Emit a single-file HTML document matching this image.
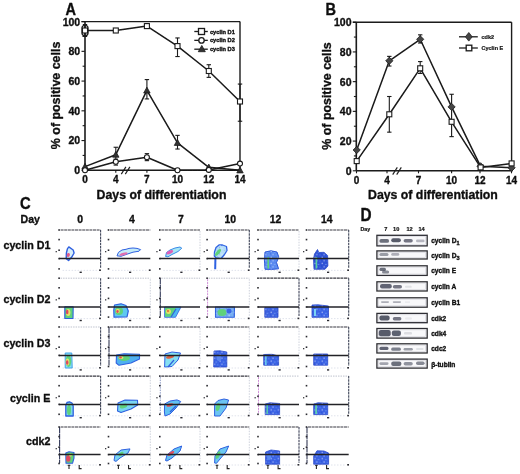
<!DOCTYPE html><html><head><meta charset="utf-8"><style>html,body{margin:0;padding:0;background:#fff;}svg{display:block;}text{font-family:"Liberation Sans", sans-serif;fill:#111;stroke:#111;stroke-width:0.35px;stroke-linejoin:round;}</style></head><body>
<svg width="520" height="474" viewBox="0 0 520 474">
<defs><filter id="soft" x="-10%" y="-10%" width="120%" height="120%"><feGaussianBlur stdDeviation="0.35"/></filter><filter id="gblur" x="0" y="0" width="520" height="474" filterUnits="userSpaceOnUse"><feGaussianBlur stdDeviation="0.3"/></filter><pattern id="speck" width="7.3" height="6.1" patternUnits="userSpaceOnUse"><circle cx="1.1" cy="1.2" r="0.7" fill="#fff" fill-opacity="0.55"/><circle cx="4.6" cy="2.1" r="0.55" fill="#a8d4ff" fill-opacity="0.7"/><circle cx="2.9" cy="4.4" r="0.8" fill="#fff" fill-opacity="0.45"/><circle cx="6.2" cy="5.0" r="0.5" fill="#80c8f8" fill-opacity="0.7"/><circle cx="5.6" cy="0.3" r="0.4" fill="#1a38b0" fill-opacity="0.6"/><circle cx="0.4" cy="3.6" r="0.45" fill="#1a38b0" fill-opacity="0.5"/></pattern></defs><rect width="520" height="474" fill="#fff"/><g filter="url(#gblur)">
<line x1="85" y1="21.6" x2="85" y2="170.3" stroke="#1a1a1a" stroke-width="1.6" />
<line x1="81.5" y1="21.6" x2="240" y2="21.6" stroke="#1a1a1a" stroke-width="1.4" />
<line x1="240" y1="21.6" x2="240" y2="170.3" stroke="#1a1a1a" stroke-width="1.4" />
<line x1="85" y1="170.3" x2="241" y2="170.3" stroke="#1a1a1a" stroke-width="1.6" />
<line x1="81.5" y1="170.3" x2="85" y2="170.3" stroke="#1a1a1a" stroke-width="1.1" />
<line x1="82.6" y1="155.43" x2="85" y2="155.43" stroke="#1a1a1a" stroke-width="1.1" />
<line x1="81.5" y1="140.56" x2="85" y2="140.56" stroke="#1a1a1a" stroke-width="1.1" />
<line x1="82.6" y1="125.69000000000001" x2="85" y2="125.69000000000001" stroke="#1a1a1a" stroke-width="1.1" />
<line x1="81.5" y1="110.82000000000001" x2="85" y2="110.82000000000001" stroke="#1a1a1a" stroke-width="1.1" />
<line x1="82.6" y1="95.95" x2="85" y2="95.95" stroke="#1a1a1a" stroke-width="1.1" />
<line x1="81.5" y1="81.08000000000001" x2="85" y2="81.08000000000001" stroke="#1a1a1a" stroke-width="1.1" />
<line x1="82.6" y1="66.21000000000001" x2="85" y2="66.21000000000001" stroke="#1a1a1a" stroke-width="1.1" />
<line x1="81.5" y1="51.34" x2="85" y2="51.34" stroke="#1a1a1a" stroke-width="1.1" />
<line x1="82.6" y1="36.47" x2="85" y2="36.47" stroke="#1a1a1a" stroke-width="1.1" />
<line x1="81.5" y1="21.599999999999994" x2="85" y2="21.599999999999994" stroke="#1a1a1a" stroke-width="1.1" />
<text x="80.2" y="174.20000000000002" font-size="10.5" text-anchor="end" font-weight="bold" >0</text>
<text x="80.2" y="144.46" font-size="10.5" text-anchor="end" font-weight="bold" >20</text>
<text x="80.2" y="114.72000000000001" font-size="10.5" text-anchor="end" font-weight="bold" >40</text>
<text x="80.2" y="84.98000000000002" font-size="10.5" text-anchor="end" font-weight="bold" >60</text>
<text x="80.2" y="55.24" font-size="10.5" text-anchor="end" font-weight="bold" >80</text>
<text x="80.2" y="25.499999999999993" font-size="10.5" text-anchor="end" font-weight="bold" >100</text>
<line x1="85" y1="170.3" x2="85" y2="172.8" stroke="#1a1a1a" stroke-width="1.1" />
<text x="85" y="183.10000000000002" font-size="10" text-anchor="middle" font-weight="bold" >0</text>
<line x1="115.8" y1="170.3" x2="115.8" y2="172.8" stroke="#1a1a1a" stroke-width="1.1" />
<text x="115.8" y="183.10000000000002" font-size="10" text-anchor="middle" font-weight="bold" >4</text>
<line x1="146.9" y1="170.3" x2="146.9" y2="172.8" stroke="#1a1a1a" stroke-width="1.1" />
<text x="146.9" y="183.10000000000002" font-size="10" text-anchor="middle" font-weight="bold" >7</text>
<line x1="177.5" y1="170.3" x2="177.5" y2="172.8" stroke="#1a1a1a" stroke-width="1.1" />
<text x="177.5" y="183.10000000000002" font-size="10" text-anchor="middle" font-weight="bold" >10</text>
<line x1="208.8" y1="170.3" x2="208.8" y2="172.8" stroke="#1a1a1a" stroke-width="1.1" />
<text x="208.8" y="183.10000000000002" font-size="10" text-anchor="middle" font-weight="bold" >12</text>
<line x1="240" y1="170.3" x2="240" y2="172.8" stroke="#1a1a1a" stroke-width="1.1" />
<text x="240" y="183.10000000000002" font-size="10" text-anchor="middle" font-weight="bold" >14</text>
<line x1="121.3" y1="174.10000000000002" x2="125.89999999999999" y2="166.9" stroke="#1a1a1a" stroke-width="1.1" />
<line x1="125.3" y1="174.10000000000002" x2="129.9" y2="166.9" stroke="#1a1a1a" stroke-width="1.1" />
<text x="161.5" y="198.9" font-size="12.3" text-anchor="middle" font-weight="bold" >Days of differentiation</text>
<text transform="translate(60,95.45) rotate(-90)" font-size="12.4" text-anchor="middle" font-weight="bold">% of positive cells</text>
<text transform="translate(65.5,15) scale(1,1.1)" font-size="14.5" font-weight="bold">A</text>
<line x1="85" y1="24.574000000000012" x2="85" y2="36.47" stroke="#1a1a1a" stroke-width="1.1" />
<line x1="82.8" y1="24.574000000000012" x2="87.2" y2="24.574000000000012" stroke="#1a1a1a" stroke-width="1.1" />
<line x1="82.8" y1="36.47" x2="87.2" y2="36.47" stroke="#1a1a1a" stroke-width="1.1" />
<line x1="146.9" y1="23.8305" x2="146.9" y2="28.291500000000013" stroke="#1a1a1a" stroke-width="1.1" />
<line x1="144.70000000000002" y1="23.8305" x2="149.1" y2="23.8305" stroke="#1a1a1a" stroke-width="1.1" />
<line x1="144.70000000000002" y1="28.291500000000013" x2="149.1" y2="28.291500000000013" stroke="#1a1a1a" stroke-width="1.1" />
<line x1="177.5" y1="37.956999999999994" x2="177.5" y2="56.5445" stroke="#1a1a1a" stroke-width="1.1" />
<line x1="175.3" y1="37.956999999999994" x2="179.7" y2="37.956999999999994" stroke="#1a1a1a" stroke-width="1.1" />
<line x1="175.3" y1="56.5445" x2="179.7" y2="56.5445" stroke="#1a1a1a" stroke-width="1.1" />
<line x1="208.8" y1="64.723" x2="208.8" y2="77.36250000000001" stroke="#1a1a1a" stroke-width="1.1" />
<line x1="206.60000000000002" y1="64.723" x2="211.0" y2="64.723" stroke="#1a1a1a" stroke-width="1.1" />
<line x1="206.60000000000002" y1="77.36250000000001" x2="211.0" y2="77.36250000000001" stroke="#1a1a1a" stroke-width="1.1" />
<line x1="240" y1="84.054" x2="240" y2="121.22900000000001" stroke="#1a1a1a" stroke-width="1.1" />
<line x1="237.8" y1="84.054" x2="242.2" y2="84.054" stroke="#1a1a1a" stroke-width="1.1" />
<line x1="237.8" y1="121.22900000000001" x2="242.2" y2="121.22900000000001" stroke="#1a1a1a" stroke-width="1.1" />
<line x1="115.8" y1="147.25150000000002" x2="115.8" y2="162.865" stroke="#1a1a1a" stroke-width="1.1" />
<line x1="113.6" y1="147.25150000000002" x2="118.0" y2="147.25150000000002" stroke="#1a1a1a" stroke-width="1.1" />
<line x1="113.6" y1="162.865" x2="118.0" y2="162.865" stroke="#1a1a1a" stroke-width="1.1" />
<line x1="146.9" y1="79.593" x2="146.9" y2="98.924" stroke="#1a1a1a" stroke-width="1.1" />
<line x1="144.70000000000002" y1="79.593" x2="149.1" y2="79.593" stroke="#1a1a1a" stroke-width="1.1" />
<line x1="144.70000000000002" y1="98.924" x2="149.1" y2="98.924" stroke="#1a1a1a" stroke-width="1.1" />
<line x1="177.5" y1="135.3555" x2="177.5" y2="149.0359" stroke="#1a1a1a" stroke-width="1.1" />
<line x1="175.3" y1="135.3555" x2="179.7" y2="135.3555" stroke="#1a1a1a" stroke-width="1.1" />
<line x1="175.3" y1="149.0359" x2="179.7" y2="149.0359" stroke="#1a1a1a" stroke-width="1.1" />
<line x1="115.8" y1="159.1475" x2="115.8" y2="165.09550000000002" stroke="#1a1a1a" stroke-width="1.1" />
<line x1="113.6" y1="159.1475" x2="118.0" y2="159.1475" stroke="#1a1a1a" stroke-width="1.1" />
<line x1="113.6" y1="165.09550000000002" x2="118.0" y2="165.09550000000002" stroke="#1a1a1a" stroke-width="1.1" />
<line x1="146.9" y1="153.6456" x2="146.9" y2="160.6345" stroke="#1a1a1a" stroke-width="1.1" />
<line x1="144.70000000000002" y1="153.6456" x2="149.1" y2="153.6456" stroke="#1a1a1a" stroke-width="1.1" />
<line x1="144.70000000000002" y1="160.6345" x2="149.1" y2="160.6345" stroke="#1a1a1a" stroke-width="1.1" />
<polyline points="85.0,166.6 115.8,154.7 146.9,90.4 177.5,142.8 208.8,167.3 240.0,170.3" fill="none" stroke="#1a1a1a" stroke-width="1.5" stroke-linejoin="round"/>
<polyline points="85.0,170.3 115.8,161.7 146.9,157.2 177.5,170.3 208.8,169.9 240.0,163.6" fill="none" stroke="#1a1a1a" stroke-width="1.5" stroke-linejoin="round"/>
<polyline points="85.0,30.5 115.8,30.5 146.9,26.1 177.5,46.1 208.8,71.0 240.0,101.5" fill="none" stroke="#1a1a1a" stroke-width="1.5" stroke-linejoin="round"/>
<path d="M85.0,163.4 L88.2,169.1 L81.8,169.1 Z" fill="#333" stroke="#1a1a1a" stroke-width="0.8"/>
<path d="M115.8,151.5 L119.0,157.2 L112.6,157.2 Z" fill="#333" stroke="#1a1a1a" stroke-width="0.8"/>
<path d="M146.9,87.2 L150.1,93.0 L143.7,93.0 Z" fill="#333" stroke="#1a1a1a" stroke-width="0.8"/>
<path d="M177.5,139.6 L180.7,145.4 L174.3,145.4 Z" fill="#333" stroke="#1a1a1a" stroke-width="0.8"/>
<path d="M208.8,164.1 L212.0,169.9 L205.6,169.9 Z" fill="#333" stroke="#1a1a1a" stroke-width="0.8"/>
<path d="M240.0,167.1 L243.2,172.9 L236.8,172.9 Z" fill="#333" stroke="#1a1a1a" stroke-width="0.8"/>
<circle cx="85.0" cy="170.3" r="2.5" fill="#fff" stroke="#1a1a1a" stroke-width="1.1"/>
<circle cx="115.8" cy="161.7" r="2.5" fill="#fff" stroke="#1a1a1a" stroke-width="1.1"/>
<circle cx="146.9" cy="157.2" r="2.5" fill="#fff" stroke="#1a1a1a" stroke-width="1.1"/>
<circle cx="177.5" cy="170.3" r="2.5" fill="#fff" stroke="#1a1a1a" stroke-width="1.1"/>
<circle cx="208.8" cy="169.9" r="2.5" fill="#fff" stroke="#1a1a1a" stroke-width="1.1"/>
<circle cx="240.0" cy="163.6" r="2.5" fill="#fff" stroke="#1a1a1a" stroke-width="1.1"/>
<rect x="82.5" y="28.0" width="5.0" height="5.0" fill="#fff" stroke="#1a1a1a" stroke-width="1.1"/>
<rect x="113.3" y="28.0" width="5.0" height="5.0" fill="#fff" stroke="#1a1a1a" stroke-width="1.1"/>
<rect x="144.4" y="23.6" width="5.0" height="5.0" fill="#fff" stroke="#1a1a1a" stroke-width="1.1"/>
<rect x="175.0" y="43.6" width="5.0" height="5.0" fill="#fff" stroke="#1a1a1a" stroke-width="1.1"/>
<rect x="206.3" y="68.5" width="5.0" height="5.0" fill="#fff" stroke="#1a1a1a" stroke-width="1.1"/>
<rect x="237.5" y="99.0" width="5.0" height="5.0" fill="#fff" stroke="#1a1a1a" stroke-width="1.1"/>
<rect x="81.9" y="25.3" width="6.2" height="10.4" rx="3" fill="none" stroke="#1a1a1a" stroke-width="1.2"/>
<line x1="194.3" y1="31.5" x2="207.8" y2="31.5" stroke="#1a1a1a" stroke-width="1.3" />
<rect x="198.5" y="28.5" width="6.0" height="6.0" fill="#fff" stroke="#1a1a1a" stroke-width="1.3"/>
<text x="209.9" y="33.5" font-size="5.7" text-anchor="start" font-weight="bold" >cyclin D1</text>
<line x1="194.3" y1="40.35" x2="207.8" y2="40.35" stroke="#1a1a1a" stroke-width="1.3" />
<circle cx="201.5" cy="40.4" r="2.7" fill="#fff" stroke="#1a1a1a" stroke-width="1.3"/>
<text x="209.9" y="42.35" font-size="5.7" text-anchor="start" font-weight="bold" >cyclin D2</text>
<line x1="194.3" y1="49.2" x2="207.8" y2="49.2" stroke="#1a1a1a" stroke-width="1.3" />
<path d="M201.8,45.4 L205.3,51.7 L198.3,51.7 Z" fill="#333" stroke="#1a1a1a" stroke-width="0.8"/>
<text x="209.9" y="51.2" font-size="5.7" text-anchor="start" font-weight="bold" >cyclin D3</text>
<line x1="356.3" y1="22.2" x2="356.3" y2="170.8" stroke="#1a1a1a" stroke-width="1.6" />
<line x1="352.8" y1="22.2" x2="511.6" y2="22.2" stroke="#1a1a1a" stroke-width="1.4" />
<line x1="511.6" y1="22.2" x2="511.6" y2="170.8" stroke="#1a1a1a" stroke-width="1.4" />
<line x1="356.3" y1="170.8" x2="512.6" y2="170.8" stroke="#1a1a1a" stroke-width="1.6" />
<line x1="352.8" y1="170.8" x2="356.3" y2="170.8" stroke="#1a1a1a" stroke-width="1.1" />
<line x1="353.90000000000003" y1="155.94" x2="356.3" y2="155.94" stroke="#1a1a1a" stroke-width="1.1" />
<line x1="352.8" y1="141.08" x2="356.3" y2="141.08" stroke="#1a1a1a" stroke-width="1.1" />
<line x1="353.90000000000003" y1="126.22" x2="356.3" y2="126.22" stroke="#1a1a1a" stroke-width="1.1" />
<line x1="352.8" y1="111.36" x2="356.3" y2="111.36" stroke="#1a1a1a" stroke-width="1.1" />
<line x1="353.90000000000003" y1="96.5" x2="356.3" y2="96.5" stroke="#1a1a1a" stroke-width="1.1" />
<line x1="352.8" y1="81.64" x2="356.3" y2="81.64" stroke="#1a1a1a" stroke-width="1.1" />
<line x1="353.90000000000003" y1="66.78" x2="356.3" y2="66.78" stroke="#1a1a1a" stroke-width="1.1" />
<line x1="352.8" y1="51.91999999999999" x2="356.3" y2="51.91999999999999" stroke="#1a1a1a" stroke-width="1.1" />
<line x1="353.90000000000003" y1="37.06" x2="356.3" y2="37.06" stroke="#1a1a1a" stroke-width="1.1" />
<line x1="352.8" y1="22.19999999999999" x2="356.3" y2="22.19999999999999" stroke="#1a1a1a" stroke-width="1.1" />
<text x="351.5" y="174.70000000000002" font-size="10.5" text-anchor="end" font-weight="bold" >0</text>
<text x="351.5" y="144.98000000000002" font-size="10.5" text-anchor="end" font-weight="bold" >20</text>
<text x="351.5" y="115.26" font-size="10.5" text-anchor="end" font-weight="bold" >40</text>
<text x="351.5" y="85.54" font-size="10.5" text-anchor="end" font-weight="bold" >60</text>
<text x="351.5" y="55.819999999999986" font-size="10.5" text-anchor="end" font-weight="bold" >80</text>
<text x="351.5" y="26.099999999999987" font-size="10.5" text-anchor="end" font-weight="bold" >100</text>
<line x1="356.5" y1="170.8" x2="356.5" y2="173.3" stroke="#1a1a1a" stroke-width="1.1" />
<text x="356.5" y="183.60000000000002" font-size="10" text-anchor="middle" font-weight="bold" >0</text>
<line x1="387" y1="170.8" x2="387" y2="173.3" stroke="#1a1a1a" stroke-width="1.1" />
<text x="387" y="183.60000000000002" font-size="10" text-anchor="middle" font-weight="bold" >4</text>
<line x1="418.5" y1="170.8" x2="418.5" y2="173.3" stroke="#1a1a1a" stroke-width="1.1" />
<text x="418.5" y="183.60000000000002" font-size="10" text-anchor="middle" font-weight="bold" >7</text>
<line x1="451.6" y1="170.8" x2="451.6" y2="173.3" stroke="#1a1a1a" stroke-width="1.1" />
<text x="451.6" y="183.60000000000002" font-size="10" text-anchor="middle" font-weight="bold" >10</text>
<line x1="480" y1="170.8" x2="480" y2="173.3" stroke="#1a1a1a" stroke-width="1.1" />
<text x="480" y="183.60000000000002" font-size="10" text-anchor="middle" font-weight="bold" >12</text>
<line x1="511.5" y1="170.8" x2="511.5" y2="173.3" stroke="#1a1a1a" stroke-width="1.1" />
<text x="511.5" y="183.60000000000002" font-size="10" text-anchor="middle" font-weight="bold" >14</text>
<line x1="392.7" y1="174.60000000000002" x2="397.3" y2="167.4" stroke="#1a1a1a" stroke-width="1.1" />
<line x1="396.7" y1="174.60000000000002" x2="401.3" y2="167.4" stroke="#1a1a1a" stroke-width="1.1" />
<text x="432.95000000000005" y="199.4" font-size="12.3" text-anchor="middle" font-weight="bold" >Days of differentiation</text>
<text transform="translate(331.3,96.0) rotate(-90)" font-size="12.4" text-anchor="middle" font-weight="bold">% of positive cells</text>
<text transform="translate(325.5,15) scale(1,1.1)" font-size="14.5" font-weight="bold">B</text>
<line x1="389.3" y1="96.5" x2="389.3" y2="132.16400000000002" stroke="#1a1a1a" stroke-width="1.1" />
<line x1="387.1" y1="96.5" x2="391.5" y2="96.5" stroke="#1a1a1a" stroke-width="1.1" />
<line x1="387.1" y1="132.16400000000002" x2="391.5" y2="132.16400000000002" stroke="#1a1a1a" stroke-width="1.1" />
<line x1="389.3" y1="56.378" x2="389.3" y2="66.03699999999999" stroke="#1a1a1a" stroke-width="1.1" />
<line x1="387.1" y1="56.378" x2="391.5" y2="56.378" stroke="#1a1a1a" stroke-width="1.1" />
<line x1="387.1" y1="66.03699999999999" x2="391.5" y2="66.03699999999999" stroke="#1a1a1a" stroke-width="1.1" />
<line x1="420.2" y1="34.83099999999999" x2="420.2" y2="43.00399999999999" stroke="#1a1a1a" stroke-width="1.1" />
<line x1="418.0" y1="34.83099999999999" x2="422.4" y2="34.83099999999999" stroke="#1a1a1a" stroke-width="1.1" />
<line x1="418.0" y1="43.00399999999999" x2="422.4" y2="43.00399999999999" stroke="#1a1a1a" stroke-width="1.1" />
<line x1="420.2" y1="61.57899999999999" x2="420.2" y2="73.467" stroke="#1a1a1a" stroke-width="1.1" />
<line x1="418.0" y1="61.57899999999999" x2="422.4" y2="61.57899999999999" stroke="#1a1a1a" stroke-width="1.1" />
<line x1="418.0" y1="73.467" x2="422.4" y2="73.467" stroke="#1a1a1a" stroke-width="1.1" />
<line x1="451.6" y1="94.271" x2="451.6" y2="136.622" stroke="#1a1a1a" stroke-width="1.1" />
<line x1="449.40000000000003" y1="94.271" x2="453.8" y2="94.271" stroke="#1a1a1a" stroke-width="1.1" />
<line x1="449.40000000000003" y1="136.622" x2="453.8" y2="136.622" stroke="#1a1a1a" stroke-width="1.1" />
<polyline points="356.7,150.0 389.3,60.8 420.2,39.3 451.6,106.9 480.6,166.3 511.6,167.8" fill="none" stroke="#1a1a1a" stroke-width="1.5" stroke-linejoin="round"/>
<polyline points="356.7,161.1 389.3,114.3 420.2,68.3 451.6,121.8 480.6,167.4 511.6,163.4" fill="none" stroke="#1a1a1a" stroke-width="1.5" stroke-linejoin="round"/>
<path d="M356.7,146.4 L360.3,150.0 L356.7,153.6 L353.1,150.0 Z" fill="#444" stroke="#1a1a1a" stroke-width="0.8"/>
<path d="M389.3,57.2 L392.9,60.8 L389.3,64.4 L385.7,60.8 Z" fill="#444" stroke="#1a1a1a" stroke-width="0.8"/>
<path d="M420.2,35.7 L423.8,39.3 L420.2,42.9 L416.6,39.3 Z" fill="#444" stroke="#1a1a1a" stroke-width="0.8"/>
<path d="M451.6,103.3 L455.2,106.9 L451.6,110.5 L448.0,106.9 Z" fill="#444" stroke="#1a1a1a" stroke-width="0.8"/>
<path d="M480.6,162.7 L484.2,166.3 L480.6,169.9 L477.0,166.3 Z" fill="#444" stroke="#1a1a1a" stroke-width="0.8"/>
<path d="M511.6,164.2 L515.2,167.8 L511.6,171.4 L508.0,167.8 Z" fill="#444" stroke="#1a1a1a" stroke-width="0.8"/>
<rect x="354.2" y="158.6" width="5.0" height="5.0" fill="#fff" stroke="#1a1a1a" stroke-width="1.1"/>
<rect x="386.8" y="111.8" width="5.0" height="5.0" fill="#fff" stroke="#1a1a1a" stroke-width="1.1"/>
<rect x="417.7" y="65.8" width="5.0" height="5.0" fill="#fff" stroke="#1a1a1a" stroke-width="1.1"/>
<rect x="449.1" y="119.3" width="5.0" height="5.0" fill="#fff" stroke="#1a1a1a" stroke-width="1.1"/>
<rect x="478.1" y="164.9" width="5.0" height="5.0" fill="#fff" stroke="#1a1a1a" stroke-width="1.1"/>
<rect x="509.1" y="160.9" width="5.0" height="5.0" fill="#fff" stroke="#1a1a1a" stroke-width="1.1"/>
<line x1="459" y1="36.8" x2="477.8" y2="36.8" stroke="#1a1a1a" stroke-width="1.3" />
<path d="M468.8,32.5 L472.2,36.8 L468.8,41.1 L465.4,36.8 Z" fill="#444" stroke="#222" stroke-width="0.8"/>
<text x="481.5" y="38.699999999999996" font-size="5.5" text-anchor="start" font-weight="bold" style="stroke-width:0.2px">cdk2</text>
<line x1="459" y1="48.0" x2="477.8" y2="48.0" stroke="#1a1a1a" stroke-width="1.3" />
<rect x="466.2" y="45.2" width="5.6" height="5.6" fill="#fff" stroke="#1a1a1a" stroke-width="1.3"/>
<text x="481.5" y="49.9" font-size="5.5" text-anchor="start" font-weight="bold" style="stroke-width:0.2px">Cyclin E</text>
<text transform="translate(20.1,208.6) scale(1,1.1)" font-size="14.8" font-weight="bold">C</text>
<text x="20.5" y="222.8" font-size="10.6" text-anchor="start" font-weight="bold" >Day</text>
<text x="80.2" y="223.2" font-size="10.4" text-anchor="middle" font-weight="bold" >0</text>
<text x="132" y="223.2" font-size="10.4" text-anchor="middle" font-weight="bold" >4</text>
<text x="181" y="223.2" font-size="10.4" text-anchor="middle" font-weight="bold" >7</text>
<text x="230.3" y="223.2" font-size="10.4" text-anchor="middle" font-weight="bold" >10</text>
<text x="275.5" y="223.2" font-size="10.4" text-anchor="middle" font-weight="bold" >12</text>
<text x="326.8" y="223.2" font-size="10.4" text-anchor="middle" font-weight="bold" >14</text>
<text x="50.4" y="248.8" font-size="10.7" text-anchor="end" font-weight="bold" >cyclin D1</text>
<text x="50.4" y="303.2" font-size="10.7" text-anchor="end" font-weight="bold" >cyclin D2</text>
<text x="50.4" y="346.7" font-size="10.7" text-anchor="end" font-weight="bold" >cyclin D3</text>
<text x="50.4" y="402.0" font-size="10.7" text-anchor="end" font-weight="bold" >cyclin E</text>
<text x="50.4" y="445.0" font-size="10.7" text-anchor="end" font-weight="bold" >cdk2</text>
<line x1="60.6" y1="230.0" x2="100.6" y2="230.0" stroke="#3a3a40" stroke-width="1.2" stroke-dasharray="3 0.6"/>
<line x1="100.6" y1="230.0" x2="100.6" y2="268.4" stroke="#40465a" stroke-width="1.1" stroke-dasharray="2.5 0.7"/>
<line x1="62.6" y1="270.4" x2="97.6" y2="270.4" stroke="#dde0ea" stroke-width="0.9" stroke-dasharray="1.5 1.5"/>
<rect x="58.300000000000004" y="229.2" width="1.6" height="1.6" fill="#2a2a30"/>
<rect x="58.300000000000004" y="238.8" width="1.6" height="1.6" fill="#2a2a30"/>
<rect x="58.300000000000004" y="249.4" width="1.6" height="1.6" fill="#2a2a30"/>
<rect x="58.300000000000004" y="257.8" width="1.6" height="1.6" fill="#2a2a30"/>
<rect x="58.300000000000004" y="268.1" width="1.6" height="1.6" fill="#2a2a30"/>
<rect x="55.6" y="251.0" width="1.3" height="1.3" fill="#3a3a40"/>
<rect x="79.6" y="271.59999999999997" width="2.2" height="1.4" fill="#2a2a30"/>
<rect x="99.1" y="269.4" width="1.8" height="1.6" fill="#2a2a30"/>
<line x1="110.0" y1="230.0" x2="150.3" y2="230.0" stroke="#3a3a40" stroke-width="1.2" stroke-dasharray="3 0.6"/>
<line x1="112.0" y1="270.4" x2="147.3" y2="270.4" stroke="#dde0ea" stroke-width="0.9" stroke-dasharray="1.5 1.5"/>
<rect x="107.7" y="229.2" width="1.6" height="1.6" fill="#2a2a30"/>
<rect x="107.7" y="238.8" width="1.6" height="1.6" fill="#2a2a30"/>
<rect x="107.7" y="249.4" width="1.6" height="1.6" fill="#2a2a30"/>
<rect x="107.7" y="257.8" width="1.6" height="1.6" fill="#2a2a30"/>
<rect x="107.7" y="268.1" width="1.6" height="1.6" fill="#2a2a30"/>
<rect x="105.0" y="251.0" width="1.3" height="1.3" fill="#3a3a40"/>
<rect x="129.0" y="271.59999999999997" width="2.2" height="1.4" fill="#2a2a30"/>
<rect x="148.8" y="269.4" width="1.8" height="1.6" fill="#2a2a30"/>
<line x1="161.3" y1="230.0" x2="200.0" y2="230.0" stroke="#3a3a40" stroke-width="1.2" stroke-dasharray="3 0.6"/>
<line x1="200.0" y1="231.0" x2="200.0" y2="268.4" stroke="#c8cdd8" stroke-width="0.9" stroke-dasharray="1.5 1.2"/>
<line x1="163.3" y1="270.4" x2="197.0" y2="270.4" stroke="#dde0ea" stroke-width="0.9" stroke-dasharray="1.5 1.5"/>
<rect x="159.0" y="229.2" width="1.6" height="1.6" fill="#2a2a30"/>
<rect x="159.0" y="238.8" width="1.6" height="1.6" fill="#2a2a30"/>
<rect x="159.0" y="249.4" width="1.6" height="1.6" fill="#2a2a30"/>
<rect x="159.0" y="257.8" width="1.6" height="1.6" fill="#2a2a30"/>
<rect x="159.0" y="268.1" width="1.6" height="1.6" fill="#2a2a30"/>
<rect x="156.3" y="251.0" width="1.3" height="1.3" fill="#3a3a40"/>
<rect x="180.3" y="271.59999999999997" width="2.2" height="1.4" fill="#2a2a30"/>
<rect x="198.5" y="269.4" width="1.8" height="1.6" fill="#2a2a30"/>
<line x1="208.6" y1="230.0" x2="249.3" y2="230.0" stroke="#3a3a40" stroke-width="1.2" stroke-dasharray="3 0.6"/>
<line x1="249.3" y1="230.0" x2="249.3" y2="268.4" stroke="#40465a" stroke-width="1.1" stroke-dasharray="2.5 0.7"/>
<line x1="210.6" y1="270.4" x2="246.3" y2="270.4" stroke="#dde0ea" stroke-width="0.9" stroke-dasharray="1.5 1.5"/>
<rect x="206.29999999999998" y="229.2" width="1.6" height="1.6" fill="#2a2a30"/>
<rect x="206.29999999999998" y="238.8" width="1.6" height="1.6" fill="#2a2a30"/>
<rect x="206.29999999999998" y="249.4" width="1.6" height="1.6" fill="#2a2a30"/>
<rect x="206.29999999999998" y="257.8" width="1.6" height="1.6" fill="#2a2a30"/>
<rect x="206.29999999999998" y="268.1" width="1.6" height="1.6" fill="#2a2a30"/>
<rect x="203.6" y="251.0" width="1.3" height="1.3" fill="#3a3a40"/>
<rect x="227.6" y="271.59999999999997" width="2.2" height="1.4" fill="#2a2a30"/>
<rect x="247.8" y="269.4" width="1.8" height="1.6" fill="#2a2a30"/>
<line x1="259.5" y1="230.0" x2="299.0" y2="230.0" stroke="#3a3a40" stroke-width="1.2" stroke-dasharray="3 0.6"/>
<line x1="299.0" y1="231.0" x2="299.0" y2="268.4" stroke="#c8cdd8" stroke-width="0.9" stroke-dasharray="1.5 1.2"/>
<line x1="261.5" y1="270.4" x2="296.0" y2="270.4" stroke="#dde0ea" stroke-width="0.9" stroke-dasharray="1.5 1.5"/>
<rect x="257.2" y="229.2" width="1.6" height="1.6" fill="#2a2a30"/>
<rect x="257.2" y="238.8" width="1.6" height="1.6" fill="#2a2a30"/>
<rect x="257.2" y="249.4" width="1.6" height="1.6" fill="#2a2a30"/>
<rect x="257.2" y="257.8" width="1.6" height="1.6" fill="#2a2a30"/>
<rect x="257.2" y="268.1" width="1.6" height="1.6" fill="#2a2a30"/>
<rect x="254.5" y="251.0" width="1.3" height="1.3" fill="#3a3a40"/>
<rect x="278.5" y="271.59999999999997" width="2.2" height="1.4" fill="#2a2a30"/>
<rect x="297.5" y="269.4" width="1.8" height="1.6" fill="#2a2a30"/>
<line x1="308.0" y1="230.0" x2="348.7" y2="230.0" stroke="#3a3a40" stroke-width="1.2" stroke-dasharray="3 0.6"/>
<line x1="348.7" y1="230.0" x2="348.7" y2="268.4" stroke="#40465a" stroke-width="1.1" stroke-dasharray="2.5 0.7"/>
<line x1="310.0" y1="270.4" x2="345.7" y2="270.4" stroke="#dde0ea" stroke-width="0.9" stroke-dasharray="1.5 1.5"/>
<rect x="305.7" y="229.2" width="1.6" height="1.6" fill="#2a2a30"/>
<rect x="305.7" y="238.8" width="1.6" height="1.6" fill="#2a2a30"/>
<rect x="305.7" y="249.4" width="1.6" height="1.6" fill="#2a2a30"/>
<rect x="305.7" y="257.8" width="1.6" height="1.6" fill="#2a2a30"/>
<rect x="305.7" y="268.1" width="1.6" height="1.6" fill="#2a2a30"/>
<rect x="303.0" y="251.0" width="1.3" height="1.3" fill="#3a3a40"/>
<rect x="327.0" y="271.59999999999997" width="2.2" height="1.4" fill="#2a2a30"/>
<rect x="347.2" y="269.4" width="1.8" height="1.6" fill="#2a2a30"/>
<line x1="60.6" y1="278.2" x2="100.6" y2="278.2" stroke="#b8bcc8" stroke-width="0.9" stroke-dasharray="1.5 1"/>
<line x1="100.6" y1="278.2" x2="100.6" y2="316.6" stroke="#40465a" stroke-width="1.1" stroke-dasharray="2.5 0.7"/>
<line x1="62.6" y1="318.6" x2="97.6" y2="318.6" stroke="#dde0ea" stroke-width="0.9" stroke-dasharray="1.5 1.5"/>
<rect x="58.300000000000004" y="277.4" width="1.6" height="1.6" fill="#2a2a30"/>
<rect x="58.300000000000004" y="287.0" width="1.6" height="1.6" fill="#2a2a30"/>
<rect x="58.300000000000004" y="297.6" width="1.6" height="1.6" fill="#2a2a30"/>
<rect x="58.300000000000004" y="306.2" width="1.6" height="1.6" fill="#2a2a30"/>
<rect x="58.300000000000004" y="316.3" width="1.6" height="1.6" fill="#2a2a30"/>
<rect x="55.6" y="299.2" width="1.3" height="1.3" fill="#3a3a40"/>
<rect x="79.6" y="319.8" width="2.2" height="1.4" fill="#2a2a30"/>
<rect x="99.1" y="317.6" width="1.8" height="1.6" fill="#2a2a30"/>
<line x1="110.0" y1="278.2" x2="150.3" y2="278.2" stroke="#b8bcc8" stroke-width="0.9" stroke-dasharray="1.5 1"/>
<line x1="150.3" y1="279.2" x2="150.3" y2="316.6" stroke="#c8cdd8" stroke-width="0.9" stroke-dasharray="1.5 1.2"/>
<line x1="112.0" y1="318.6" x2="147.3" y2="318.6" stroke="#dde0ea" stroke-width="0.9" stroke-dasharray="1.5 1.5"/>
<rect x="107.7" y="277.4" width="1.6" height="1.6" fill="#2a2a30"/>
<rect x="107.7" y="287.0" width="1.6" height="1.6" fill="#2a2a30"/>
<rect x="107.7" y="297.6" width="1.6" height="1.6" fill="#2a2a30"/>
<rect x="107.7" y="306.2" width="1.6" height="1.6" fill="#2a2a30"/>
<rect x="107.7" y="316.3" width="1.6" height="1.6" fill="#2a2a30"/>
<rect x="105.0" y="299.2" width="1.3" height="1.3" fill="#3a3a40"/>
<rect x="129.0" y="319.8" width="2.2" height="1.4" fill="#2a2a30"/>
<rect x="148.8" y="317.6" width="1.8" height="1.6" fill="#2a2a30"/>
<line x1="161.3" y1="278.2" x2="200.0" y2="278.2" stroke="#b8bcc8" stroke-width="0.9" stroke-dasharray="1.5 1"/>
<line x1="160.3" y1="278.2" x2="160.3" y2="316.6" stroke="#343a58" stroke-width="1.1" stroke-dasharray="6 0.5"/>
<line x1="163.3" y1="318.6" x2="197.0" y2="318.6" stroke="#dde0ea" stroke-width="0.9" stroke-dasharray="1.5 1.5"/>
<rect x="159.0" y="277.4" width="1.6" height="1.6" fill="#2a2a30"/>
<rect x="159.0" y="287.0" width="1.6" height="1.6" fill="#2a2a30"/>
<rect x="159.0" y="297.6" width="1.6" height="1.6" fill="#2a2a30"/>
<rect x="159.0" y="306.2" width="1.6" height="1.6" fill="#2a2a30"/>
<rect x="159.0" y="316.3" width="1.6" height="1.6" fill="#2a2a30"/>
<rect x="156.3" y="299.2" width="1.3" height="1.3" fill="#3a3a40"/>
<rect x="180.3" y="319.8" width="2.2" height="1.4" fill="#2a2a30"/>
<rect x="198.5" y="317.6" width="1.8" height="1.6" fill="#2a2a30"/>
<line x1="208.6" y1="278.2" x2="249.3" y2="278.2" stroke="#b8bcc8" stroke-width="0.9" stroke-dasharray="1.5 1"/>
<line x1="249.3" y1="279.2" x2="249.3" y2="316.6" stroke="#c8cdd8" stroke-width="0.9" stroke-dasharray="1.5 1.2"/>
<line x1="207.6" y1="279.2" x2="207.6" y2="316.6" stroke="#d090d8" stroke-width="1.0" stroke-dasharray="2 0.8"/>
<line x1="210.6" y1="318.6" x2="246.3" y2="318.6" stroke="#dde0ea" stroke-width="0.9" stroke-dasharray="1.5 1.5"/>
<rect x="206.29999999999998" y="277.4" width="1.6" height="1.6" fill="#2a2a30"/>
<rect x="206.29999999999998" y="287.0" width="1.6" height="1.6" fill="#2a2a30"/>
<rect x="206.29999999999998" y="297.6" width="1.6" height="1.6" fill="#2a2a30"/>
<rect x="206.29999999999998" y="306.2" width="1.6" height="1.6" fill="#2a2a30"/>
<rect x="206.29999999999998" y="316.3" width="1.6" height="1.6" fill="#2a2a30"/>
<rect x="203.6" y="299.2" width="1.3" height="1.3" fill="#3a3a40"/>
<rect x="227.6" y="319.8" width="2.2" height="1.4" fill="#2a2a30"/>
<rect x="247.8" y="317.6" width="1.8" height="1.6" fill="#2a2a30"/>
<line x1="259.5" y1="278.2" x2="299.0" y2="278.2" stroke="#3a3a40" stroke-width="1.2" stroke-dasharray="3 0.6"/>
<line x1="299.0" y1="278.2" x2="299.0" y2="316.6" stroke="#40465a" stroke-width="1.1" stroke-dasharray="2.5 0.7"/>
<line x1="261.5" y1="318.6" x2="296.0" y2="318.6" stroke="#dde0ea" stroke-width="0.9" stroke-dasharray="1.5 1.5"/>
<rect x="257.2" y="277.4" width="1.6" height="1.6" fill="#2a2a30"/>
<rect x="257.2" y="287.0" width="1.6" height="1.6" fill="#2a2a30"/>
<rect x="257.2" y="297.6" width="1.6" height="1.6" fill="#2a2a30"/>
<rect x="257.2" y="306.2" width="1.6" height="1.6" fill="#2a2a30"/>
<rect x="257.2" y="316.3" width="1.6" height="1.6" fill="#2a2a30"/>
<rect x="254.5" y="299.2" width="1.3" height="1.3" fill="#3a3a40"/>
<rect x="278.5" y="319.8" width="2.2" height="1.4" fill="#2a2a30"/>
<rect x="297.5" y="317.6" width="1.8" height="1.6" fill="#2a2a30"/>
<line x1="308.0" y1="278.2" x2="348.7" y2="278.2" stroke="#3a3a40" stroke-width="1.2" stroke-dasharray="3 0.6"/>
<line x1="348.7" y1="278.2" x2="348.7" y2="316.6" stroke="#40465a" stroke-width="1.1" stroke-dasharray="2.5 0.7"/>
<line x1="310.0" y1="318.6" x2="345.7" y2="318.6" stroke="#dde0ea" stroke-width="0.9" stroke-dasharray="1.5 1.5"/>
<rect x="305.7" y="277.4" width="1.6" height="1.6" fill="#2a2a30"/>
<rect x="305.7" y="287.0" width="1.6" height="1.6" fill="#2a2a30"/>
<rect x="305.7" y="297.6" width="1.6" height="1.6" fill="#2a2a30"/>
<rect x="305.7" y="306.2" width="1.6" height="1.6" fill="#2a2a30"/>
<rect x="305.7" y="316.3" width="1.6" height="1.6" fill="#2a2a30"/>
<rect x="303.0" y="299.2" width="1.3" height="1.3" fill="#3a3a40"/>
<rect x="327.0" y="319.8" width="2.2" height="1.4" fill="#2a2a30"/>
<rect x="347.2" y="317.6" width="1.8" height="1.6" fill="#2a2a30"/>
<line x1="60.6" y1="327.0" x2="100.6" y2="327.0" stroke="#b8bcc8" stroke-width="0.9" stroke-dasharray="1.5 1"/>
<line x1="100.6" y1="327.0" x2="100.6" y2="366.0" stroke="#40465a" stroke-width="1.1" stroke-dasharray="2.5 0.7"/>
<line x1="62.6" y1="368.0" x2="97.6" y2="368.0" stroke="#dde0ea" stroke-width="0.9" stroke-dasharray="1.5 1.5"/>
<rect x="58.300000000000004" y="326.2" width="1.6" height="1.6" fill="#2a2a30"/>
<rect x="58.300000000000004" y="335.8" width="1.6" height="1.6" fill="#2a2a30"/>
<rect x="58.300000000000004" y="346.4" width="1.6" height="1.6" fill="#2a2a30"/>
<rect x="58.300000000000004" y="354.6" width="1.6" height="1.6" fill="#2a2a30"/>
<rect x="58.300000000000004" y="365.7" width="1.6" height="1.6" fill="#2a2a30"/>
<rect x="55.6" y="348.0" width="1.3" height="1.3" fill="#3a3a40"/>
<rect x="79.6" y="369.2" width="2.2" height="1.4" fill="#2a2a30"/>
<rect x="99.1" y="367.0" width="1.8" height="1.6" fill="#2a2a30"/>
<line x1="110.0" y1="327.0" x2="150.3" y2="327.0" stroke="#3a3a40" stroke-width="1.2" stroke-dasharray="3 0.6"/>
<line x1="109.0" y1="327.0" x2="109.0" y2="366.0" stroke="#343a58" stroke-width="1.1" stroke-dasharray="6 0.5"/>
<line x1="112.0" y1="368.0" x2="147.3" y2="368.0" stroke="#dde0ea" stroke-width="0.9" stroke-dasharray="1.5 1.5"/>
<rect x="107.7" y="326.2" width="1.6" height="1.6" fill="#2a2a30"/>
<rect x="107.7" y="335.8" width="1.6" height="1.6" fill="#2a2a30"/>
<rect x="107.7" y="346.4" width="1.6" height="1.6" fill="#2a2a30"/>
<rect x="107.7" y="354.6" width="1.6" height="1.6" fill="#2a2a30"/>
<rect x="107.7" y="365.7" width="1.6" height="1.6" fill="#2a2a30"/>
<rect x="105.0" y="348.0" width="1.3" height="1.3" fill="#3a3a40"/>
<rect x="129.0" y="369.2" width="2.2" height="1.4" fill="#2a2a30"/>
<rect x="148.8" y="367.0" width="1.8" height="1.6" fill="#2a2a30"/>
<line x1="161.3" y1="327.0" x2="200.0" y2="327.0" stroke="#3a3a40" stroke-width="1.2" stroke-dasharray="3 0.6"/>
<line x1="200.0" y1="328.0" x2="200.0" y2="366.0" stroke="#c8cdd8" stroke-width="0.9" stroke-dasharray="1.5 1.2"/>
<line x1="163.3" y1="368.0" x2="197.0" y2="368.0" stroke="#dde0ea" stroke-width="0.9" stroke-dasharray="1.5 1.5"/>
<rect x="159.0" y="326.2" width="1.6" height="1.6" fill="#2a2a30"/>
<rect x="159.0" y="335.8" width="1.6" height="1.6" fill="#2a2a30"/>
<rect x="159.0" y="346.4" width="1.6" height="1.6" fill="#2a2a30"/>
<rect x="159.0" y="354.6" width="1.6" height="1.6" fill="#2a2a30"/>
<rect x="159.0" y="365.7" width="1.6" height="1.6" fill="#2a2a30"/>
<rect x="156.3" y="348.0" width="1.3" height="1.3" fill="#3a3a40"/>
<rect x="180.3" y="369.2" width="2.2" height="1.4" fill="#2a2a30"/>
<rect x="198.5" y="367.0" width="1.8" height="1.6" fill="#2a2a30"/>
<line x1="208.6" y1="327.0" x2="249.3" y2="327.0" stroke="#3a3a40" stroke-width="1.2" stroke-dasharray="3 0.6"/>
<line x1="249.3" y1="328.0" x2="249.3" y2="366.0" stroke="#c8cdd8" stroke-width="0.9" stroke-dasharray="1.5 1.2"/>
<line x1="210.6" y1="368.0" x2="246.3" y2="368.0" stroke="#dde0ea" stroke-width="0.9" stroke-dasharray="1.5 1.5"/>
<rect x="206.29999999999998" y="326.2" width="1.6" height="1.6" fill="#2a2a30"/>
<rect x="206.29999999999998" y="335.8" width="1.6" height="1.6" fill="#2a2a30"/>
<rect x="206.29999999999998" y="346.4" width="1.6" height="1.6" fill="#2a2a30"/>
<rect x="206.29999999999998" y="354.6" width="1.6" height="1.6" fill="#2a2a30"/>
<rect x="206.29999999999998" y="365.7" width="1.6" height="1.6" fill="#2a2a30"/>
<rect x="203.6" y="348.0" width="1.3" height="1.3" fill="#3a3a40"/>
<rect x="227.6" y="369.2" width="2.2" height="1.4" fill="#2a2a30"/>
<rect x="247.8" y="367.0" width="1.8" height="1.6" fill="#2a2a30"/>
<line x1="259.5" y1="327.0" x2="299.0" y2="327.0" stroke="#3a3a40" stroke-width="1.2" stroke-dasharray="3 0.6"/>
<line x1="299.0" y1="328.0" x2="299.0" y2="366.0" stroke="#c8cdd8" stroke-width="0.9" stroke-dasharray="1.5 1.2"/>
<line x1="261.5" y1="368.0" x2="296.0" y2="368.0" stroke="#dde0ea" stroke-width="0.9" stroke-dasharray="1.5 1.5"/>
<rect x="257.2" y="326.2" width="1.6" height="1.6" fill="#2a2a30"/>
<rect x="257.2" y="335.8" width="1.6" height="1.6" fill="#2a2a30"/>
<rect x="257.2" y="346.4" width="1.6" height="1.6" fill="#2a2a30"/>
<rect x="257.2" y="354.6" width="1.6" height="1.6" fill="#2a2a30"/>
<rect x="257.2" y="365.7" width="1.6" height="1.6" fill="#2a2a30"/>
<rect x="254.5" y="348.0" width="1.3" height="1.3" fill="#3a3a40"/>
<rect x="278.5" y="369.2" width="2.2" height="1.4" fill="#2a2a30"/>
<rect x="297.5" y="367.0" width="1.8" height="1.6" fill="#2a2a30"/>
<line x1="308.0" y1="327.0" x2="348.7" y2="327.0" stroke="#3a3a40" stroke-width="1.2" stroke-dasharray="3 0.6"/>
<line x1="348.7" y1="327.0" x2="348.7" y2="366.0" stroke="#40465a" stroke-width="1.1" stroke-dasharray="2.5 0.7"/>
<line x1="310.0" y1="368.0" x2="345.7" y2="368.0" stroke="#dde0ea" stroke-width="0.9" stroke-dasharray="1.5 1.5"/>
<rect x="305.7" y="326.2" width="1.6" height="1.6" fill="#2a2a30"/>
<rect x="305.7" y="335.8" width="1.6" height="1.6" fill="#2a2a30"/>
<rect x="305.7" y="346.4" width="1.6" height="1.6" fill="#2a2a30"/>
<rect x="305.7" y="354.6" width="1.6" height="1.6" fill="#2a2a30"/>
<rect x="305.7" y="365.7" width="1.6" height="1.6" fill="#2a2a30"/>
<rect x="303.0" y="348.0" width="1.3" height="1.3" fill="#3a3a40"/>
<rect x="327.0" y="369.2" width="2.2" height="1.4" fill="#2a2a30"/>
<rect x="347.2" y="367.0" width="1.8" height="1.6" fill="#2a2a30"/>
<line x1="60.6" y1="376.1" x2="100.6" y2="376.1" stroke="#3a3a40" stroke-width="1.2" stroke-dasharray="3 0.6"/>
<line x1="100.6" y1="376.1" x2="100.6" y2="413.8" stroke="#40465a" stroke-width="1.1" stroke-dasharray="2.5 0.7"/>
<line x1="62.6" y1="415.8" x2="97.6" y2="415.8" stroke="#dde0ea" stroke-width="0.9" stroke-dasharray="1.5 1.5"/>
<rect x="58.300000000000004" y="375.3" width="1.6" height="1.6" fill="#2a2a30"/>
<rect x="58.300000000000004" y="384.9" width="1.6" height="1.6" fill="#2a2a30"/>
<rect x="58.300000000000004" y="395.5" width="1.6" height="1.6" fill="#2a2a30"/>
<rect x="58.300000000000004" y="403.6" width="1.6" height="1.6" fill="#2a2a30"/>
<rect x="58.300000000000004" y="413.5" width="1.6" height="1.6" fill="#2a2a30"/>
<rect x="55.6" y="397.1" width="1.3" height="1.3" fill="#3a3a40"/>
<rect x="79.6" y="417.0" width="2.2" height="1.4" fill="#2a2a30"/>
<rect x="99.1" y="414.8" width="1.8" height="1.6" fill="#2a2a30"/>
<line x1="110.0" y1="376.1" x2="150.3" y2="376.1" stroke="#3a3a40" stroke-width="1.2" stroke-dasharray="3 0.6"/>
<line x1="150.3" y1="377.1" x2="150.3" y2="413.8" stroke="#c8cdd8" stroke-width="0.9" stroke-dasharray="1.5 1.2"/>
<line x1="112.0" y1="415.8" x2="147.3" y2="415.8" stroke="#dde0ea" stroke-width="0.9" stroke-dasharray="1.5 1.5"/>
<rect x="107.7" y="375.3" width="1.6" height="1.6" fill="#2a2a30"/>
<rect x="107.7" y="384.9" width="1.6" height="1.6" fill="#2a2a30"/>
<rect x="107.7" y="395.5" width="1.6" height="1.6" fill="#2a2a30"/>
<rect x="107.7" y="403.6" width="1.6" height="1.6" fill="#2a2a30"/>
<rect x="107.7" y="413.5" width="1.6" height="1.6" fill="#2a2a30"/>
<rect x="105.0" y="397.1" width="1.3" height="1.3" fill="#3a3a40"/>
<rect x="129.0" y="417.0" width="2.2" height="1.4" fill="#2a2a30"/>
<rect x="148.8" y="414.8" width="1.8" height="1.6" fill="#2a2a30"/>
<line x1="161.3" y1="376.1" x2="200.0" y2="376.1" stroke="#3a3a40" stroke-width="1.2" stroke-dasharray="3 0.6"/>
<line x1="160.3" y1="377.1" x2="160.3" y2="413.8" stroke="#8090c0" stroke-width="0.9" stroke-dasharray="1.5 1"/>
<line x1="163.3" y1="415.8" x2="197.0" y2="415.8" stroke="#dde0ea" stroke-width="0.9" stroke-dasharray="1.5 1.5"/>
<rect x="159.0" y="375.3" width="1.6" height="1.6" fill="#2a2a30"/>
<rect x="159.0" y="384.9" width="1.6" height="1.6" fill="#2a2a30"/>
<rect x="159.0" y="395.5" width="1.6" height="1.6" fill="#2a2a30"/>
<rect x="159.0" y="403.6" width="1.6" height="1.6" fill="#2a2a30"/>
<rect x="159.0" y="413.5" width="1.6" height="1.6" fill="#2a2a30"/>
<rect x="156.3" y="397.1" width="1.3" height="1.3" fill="#3a3a40"/>
<rect x="180.3" y="417.0" width="2.2" height="1.4" fill="#2a2a30"/>
<rect x="198.5" y="414.8" width="1.8" height="1.6" fill="#2a2a30"/>
<line x1="208.6" y1="376.1" x2="249.3" y2="376.1" stroke="#3a3a40" stroke-width="1.2" stroke-dasharray="3 0.6"/>
<line x1="249.3" y1="377.1" x2="249.3" y2="413.8" stroke="#c8cdd8" stroke-width="0.9" stroke-dasharray="1.5 1.2"/>
<line x1="210.6" y1="415.8" x2="246.3" y2="415.8" stroke="#dde0ea" stroke-width="0.9" stroke-dasharray="1.5 1.5"/>
<rect x="206.29999999999998" y="375.3" width="1.6" height="1.6" fill="#2a2a30"/>
<rect x="206.29999999999998" y="384.9" width="1.6" height="1.6" fill="#2a2a30"/>
<rect x="206.29999999999998" y="395.5" width="1.6" height="1.6" fill="#2a2a30"/>
<rect x="206.29999999999998" y="403.6" width="1.6" height="1.6" fill="#2a2a30"/>
<rect x="206.29999999999998" y="413.5" width="1.6" height="1.6" fill="#2a2a30"/>
<rect x="203.6" y="397.1" width="1.3" height="1.3" fill="#3a3a40"/>
<rect x="227.6" y="417.0" width="2.2" height="1.4" fill="#2a2a30"/>
<rect x="247.8" y="414.8" width="1.8" height="1.6" fill="#2a2a30"/>
<line x1="259.5" y1="376.1" x2="299.0" y2="376.1" stroke="#b8bcc8" stroke-width="0.9" stroke-dasharray="1.5 1"/>
<line x1="258.5" y1="377.1" x2="258.5" y2="413.8" stroke="#d090d8" stroke-width="1.0" stroke-dasharray="2 0.8"/>
<line x1="261.5" y1="415.8" x2="296.0" y2="415.8" stroke="#dde0ea" stroke-width="0.9" stroke-dasharray="1.5 1.5"/>
<rect x="257.2" y="375.3" width="1.6" height="1.6" fill="#2a2a30"/>
<rect x="257.2" y="384.9" width="1.6" height="1.6" fill="#2a2a30"/>
<rect x="257.2" y="395.5" width="1.6" height="1.6" fill="#2a2a30"/>
<rect x="257.2" y="403.6" width="1.6" height="1.6" fill="#2a2a30"/>
<rect x="257.2" y="413.5" width="1.6" height="1.6" fill="#2a2a30"/>
<rect x="254.5" y="397.1" width="1.3" height="1.3" fill="#3a3a40"/>
<rect x="278.5" y="417.0" width="2.2" height="1.4" fill="#2a2a30"/>
<rect x="297.5" y="414.8" width="1.8" height="1.6" fill="#2a2a30"/>
<line x1="308.0" y1="376.1" x2="348.7" y2="376.1" stroke="#b8bcc8" stroke-width="0.9" stroke-dasharray="1.5 1"/>
<line x1="348.7" y1="376.1" x2="348.7" y2="413.8" stroke="#40465a" stroke-width="1.1" stroke-dasharray="2.5 0.7"/>
<line x1="310.0" y1="415.8" x2="345.7" y2="415.8" stroke="#dde0ea" stroke-width="0.9" stroke-dasharray="1.5 1.5"/>
<rect x="305.7" y="375.3" width="1.6" height="1.6" fill="#2a2a30"/>
<rect x="305.7" y="384.9" width="1.6" height="1.6" fill="#2a2a30"/>
<rect x="305.7" y="395.5" width="1.6" height="1.6" fill="#2a2a30"/>
<rect x="305.7" y="403.6" width="1.6" height="1.6" fill="#2a2a30"/>
<rect x="305.7" y="413.5" width="1.6" height="1.6" fill="#2a2a30"/>
<rect x="303.0" y="397.1" width="1.3" height="1.3" fill="#3a3a40"/>
<rect x="327.0" y="417.0" width="2.2" height="1.4" fill="#2a2a30"/>
<rect x="347.2" y="414.8" width="1.8" height="1.6" fill="#2a2a30"/>
<line x1="60.6" y1="427.0" x2="100.6" y2="427.0" stroke="#3a3a40" stroke-width="1.2" stroke-dasharray="3 0.6"/>
<line x1="59.6" y1="427.0" x2="59.6" y2="463.0" stroke="#343a58" stroke-width="1.1" stroke-dasharray="6 0.5"/>
<line x1="62.6" y1="465.0" x2="97.6" y2="465.0" stroke="#dde0ea" stroke-width="0.9" stroke-dasharray="1.5 1.5"/>
<rect x="58.300000000000004" y="426.2" width="1.6" height="1.6" fill="#2a2a30"/>
<rect x="58.300000000000004" y="435.8" width="1.6" height="1.6" fill="#2a2a30"/>
<rect x="58.300000000000004" y="446.4" width="1.6" height="1.6" fill="#2a2a30"/>
<rect x="58.300000000000004" y="453.8" width="1.6" height="1.6" fill="#2a2a30"/>
<rect x="58.300000000000004" y="462.7" width="1.6" height="1.6" fill="#2a2a30"/>
<rect x="55.6" y="448.0" width="1.3" height="1.3" fill="#3a3a40"/>
<path d="M67.6,465.3 h2.8 M69.0,465.3 v3.6" stroke="#222" stroke-width="1.1" fill="none"/>
<path d="M79.2,465.0 v3.6 h2.4" stroke="#222" stroke-width="1.1" fill="none"/>
<rect x="99.1" y="464.0" width="1.8" height="1.6" fill="#2a2a30"/>
<line x1="110.0" y1="427.0" x2="150.3" y2="427.0" stroke="#3a3a40" stroke-width="1.2" stroke-dasharray="3 0.6"/>
<line x1="150.3" y1="428.0" x2="150.3" y2="463.0" stroke="#c8cdd8" stroke-width="0.9" stroke-dasharray="1.5 1.2"/>
<line x1="112.0" y1="465.0" x2="147.3" y2="465.0" stroke="#dde0ea" stroke-width="0.9" stroke-dasharray="1.5 1.5"/>
<rect x="107.7" y="426.2" width="1.6" height="1.6" fill="#2a2a30"/>
<rect x="107.7" y="435.8" width="1.6" height="1.6" fill="#2a2a30"/>
<rect x="107.7" y="446.4" width="1.6" height="1.6" fill="#2a2a30"/>
<rect x="107.7" y="453.8" width="1.6" height="1.6" fill="#2a2a30"/>
<rect x="107.7" y="462.7" width="1.6" height="1.6" fill="#2a2a30"/>
<rect x="105.0" y="448.0" width="1.3" height="1.3" fill="#3a3a40"/>
<path d="M117.0,465.3 h2.8 M118.4,465.3 v3.6" stroke="#222" stroke-width="1.1" fill="none"/>
<path d="M128.6,465.0 v3.6 h2.4" stroke="#222" stroke-width="1.1" fill="none"/>
<rect x="148.8" y="464.0" width="1.8" height="1.6" fill="#2a2a30"/>
<line x1="161.3" y1="427.0" x2="200.0" y2="427.0" stroke="#3a3a40" stroke-width="1.2" stroke-dasharray="3 0.6"/>
<line x1="200.0" y1="428.0" x2="200.0" y2="463.0" stroke="#c8cdd8" stroke-width="0.9" stroke-dasharray="1.5 1.2"/>
<line x1="163.3" y1="465.0" x2="197.0" y2="465.0" stroke="#dde0ea" stroke-width="0.9" stroke-dasharray="1.5 1.5"/>
<rect x="159.0" y="426.2" width="1.6" height="1.6" fill="#2a2a30"/>
<rect x="159.0" y="435.8" width="1.6" height="1.6" fill="#2a2a30"/>
<rect x="159.0" y="446.4" width="1.6" height="1.6" fill="#2a2a30"/>
<rect x="159.0" y="453.8" width="1.6" height="1.6" fill="#2a2a30"/>
<rect x="159.0" y="462.7" width="1.6" height="1.6" fill="#2a2a30"/>
<rect x="156.3" y="448.0" width="1.3" height="1.3" fill="#3a3a40"/>
<path d="M168.3,465.3 h2.8 M169.70000000000002,465.3 v3.6" stroke="#222" stroke-width="1.1" fill="none"/>
<path d="M179.9,465.0 v3.6 h2.4" stroke="#222" stroke-width="1.1" fill="none"/>
<rect x="198.5" y="464.0" width="1.8" height="1.6" fill="#2a2a30"/>
<line x1="208.6" y1="427.0" x2="249.3" y2="427.0" stroke="#3a3a40" stroke-width="1.2" stroke-dasharray="3 0.6"/>
<line x1="249.3" y1="428.0" x2="249.3" y2="463.0" stroke="#c8cdd8" stroke-width="0.9" stroke-dasharray="1.5 1.2"/>
<line x1="210.6" y1="465.0" x2="246.3" y2="465.0" stroke="#dde0ea" stroke-width="0.9" stroke-dasharray="1.5 1.5"/>
<rect x="206.29999999999998" y="426.2" width="1.6" height="1.6" fill="#2a2a30"/>
<rect x="206.29999999999998" y="435.8" width="1.6" height="1.6" fill="#2a2a30"/>
<rect x="206.29999999999998" y="446.4" width="1.6" height="1.6" fill="#2a2a30"/>
<rect x="206.29999999999998" y="453.8" width="1.6" height="1.6" fill="#2a2a30"/>
<rect x="206.29999999999998" y="462.7" width="1.6" height="1.6" fill="#2a2a30"/>
<rect x="203.6" y="448.0" width="1.3" height="1.3" fill="#3a3a40"/>
<path d="M215.6,465.3 h2.8 M217.0,465.3 v3.6" stroke="#222" stroke-width="1.1" fill="none"/>
<path d="M227.2,465.0 v3.6 h2.4" stroke="#222" stroke-width="1.1" fill="none"/>
<rect x="247.8" y="464.0" width="1.8" height="1.6" fill="#2a2a30"/>
<line x1="259.5" y1="427.0" x2="299.0" y2="427.0" stroke="#3a3a40" stroke-width="1.2" stroke-dasharray="3 0.6"/>
<line x1="299.0" y1="427.0" x2="299.0" y2="463.0" stroke="#40465a" stroke-width="1.1" stroke-dasharray="2.5 0.7"/>
<line x1="261.5" y1="465.0" x2="296.0" y2="465.0" stroke="#dde0ea" stroke-width="0.9" stroke-dasharray="1.5 1.5"/>
<rect x="257.2" y="426.2" width="1.6" height="1.6" fill="#2a2a30"/>
<rect x="257.2" y="435.8" width="1.6" height="1.6" fill="#2a2a30"/>
<rect x="257.2" y="446.4" width="1.6" height="1.6" fill="#2a2a30"/>
<rect x="257.2" y="453.8" width="1.6" height="1.6" fill="#2a2a30"/>
<rect x="257.2" y="462.7" width="1.6" height="1.6" fill="#2a2a30"/>
<rect x="254.5" y="448.0" width="1.3" height="1.3" fill="#3a3a40"/>
<path d="M266.5,465.3 h2.8 M267.9,465.3 v3.6" stroke="#222" stroke-width="1.1" fill="none"/>
<path d="M278.1,465.0 v3.6 h2.4" stroke="#222" stroke-width="1.1" fill="none"/>
<rect x="297.5" y="464.0" width="1.8" height="1.6" fill="#2a2a30"/>
<line x1="308.0" y1="427.0" x2="348.7" y2="427.0" stroke="#3a3a40" stroke-width="1.2" stroke-dasharray="3 0.6"/>
<line x1="307.0" y1="427.0" x2="307.0" y2="463.0" stroke="#343a58" stroke-width="1.1" stroke-dasharray="6 0.5"/>
<line x1="310.0" y1="465.0" x2="345.7" y2="465.0" stroke="#dde0ea" stroke-width="0.9" stroke-dasharray="1.5 1.5"/>
<rect x="305.7" y="426.2" width="1.6" height="1.6" fill="#2a2a30"/>
<rect x="305.7" y="435.8" width="1.6" height="1.6" fill="#2a2a30"/>
<rect x="305.7" y="446.4" width="1.6" height="1.6" fill="#2a2a30"/>
<rect x="305.7" y="453.8" width="1.6" height="1.6" fill="#2a2a30"/>
<rect x="305.7" y="462.7" width="1.6" height="1.6" fill="#2a2a30"/>
<rect x="303.0" y="448.0" width="1.3" height="1.3" fill="#3a3a40"/>
<path d="M315.0,465.3 h2.8 M316.4,465.3 v3.6" stroke="#222" stroke-width="1.1" fill="none"/>
<path d="M326.6,465.0 v3.6 h2.4" stroke="#222" stroke-width="1.1" fill="none"/>
<rect x="347.2" y="464.0" width="1.8" height="1.6" fill="#2a2a30"/>
<g filter="url(#soft)">
<path d="M68.8,246.9 L73.2,250.0 L74.1,253.0 L71.4,257.6 L68.6,260.4 L66.2,258.6 L66.4,253.0 L67.4,248.8 Z" fill="#d6eefa" stroke="#2f60e0" stroke-width="1.4" stroke-linejoin="round"/>
<ellipse cx="68.3" cy="255" rx="1.6" ry="2.0" transform="rotate(20 68.3 255)" fill="#e05a8a" stroke="none" stroke-width="1.0"/>
<path d="M117.0,255.8 L118.5,252.3 L122.0,250.0 L126.0,249.3 L129.0,248.4 L133.0,248.0 L137.0,248.4 L140.6,249.6 L139.0,251.2 L133.0,252.2 L127.0,254.2 L121.0,256.3 Z" fill="#c4ecf8" stroke="#2f60e0" stroke-width="1.0" stroke-linejoin="round"/>
<ellipse cx="123.5" cy="254" rx="4.2" ry="1.3" transform="rotate(-15 123.5 254)" fill="#e070b0" stroke="none" stroke-width="1.0"/>
<path d="M165.6,256.5 L166.5,252.5 L170.0,250.0 L175.0,248.0 L180.0,247.0 L181.8,248.2 L178.0,251.5 L172.0,254.5 L168.0,256.8 Z" fill="#a8e6f4" stroke="#3a8ae8" stroke-width="1.0" stroke-linejoin="round"/>
<ellipse cx="169.8" cy="252.3" rx="3.6" ry="1.6" transform="rotate(-25 169.8 252.3)" fill="#e060b8" stroke="none" stroke-width="1.0"/>
<path d="M214.5,252.0 L216.0,247.5 L219.0,245.0 L222.5,245.0 L226.5,246.5 L227.0,250.5 L224.5,254.5 L221.5,258.0 L216.5,258.2 L214.3,256.0 Z" fill="#b6def8" stroke="#2f62e2" stroke-width="1.3" stroke-linejoin="round"/>
<path d="M214.5,252.0 L216.0,247.5 L219.0,245.0 L222.5,245.0 L226.5,246.5 L227.0,250.5 L224.5,254.5 L221.5,258.0 L216.5,258.2 L214.3,256.0 Z" fill="url(#speck)" stroke="none" stroke-width="1.0" stroke-linejoin="round"/>
<ellipse cx="218" cy="252.5" rx="1.7" ry="4.2" transform="rotate(40 218 252.5)" fill="#5ed27c" stroke="none" stroke-width="1.0"/>
<line x1="215.4" y1="258" x2="215.2" y2="269.3" stroke="#2f62e2" stroke-width="2.0" />
<path d="M265.0,252.0 L271.0,250.8 L277.0,252.0 L278.8,257.0 L276.5,262.5 L278.6,268.8 L272.0,269.4 L265.0,269.3 L264.4,260.0 Z" fill="#5a8af0" stroke="#2f58d8" stroke-width="1.0" stroke-linejoin="round"/>
<path d="M265.0,252.0 L271.0,250.8 L277.0,252.0 L278.8,257.0 L276.5,262.5 L278.6,268.8 L272.0,269.4 L265.0,269.3 L264.4,260.0 Z" fill="url(#speck)" stroke="none" stroke-width="1.0" stroke-linejoin="round"/>
<rect x="267.4" y="257" width="1.6000000000000227" height="11.5" fill="#5ed27c" stroke="none" stroke-width="1.0"/>
<path d="M314.5,254.0 L317.5,249.5 L318.8,252.5 L324.0,252.3 L327.6,255.5 L327.9,266.0 L325.0,269.3 L314.0,269.3 L313.5,259.0 Z" fill="#2f52d6" stroke="#2a48c8" stroke-width="0.8" stroke-linejoin="round"/>
<path d="M314.5,254.0 L317.5,249.5 L318.8,252.5 L324.0,252.3 L327.6,255.5 L327.9,266.0 L325.0,269.3 L314.0,269.3 L313.5,259.0 Z" fill="url(#speck)" stroke="none" stroke-width="1.0" stroke-linejoin="round"/>
<rect x="315.6" y="257" width="1.599999999999966" height="11.5" fill="#58d0a0" stroke="none" stroke-width="1.0"/>
<path d="M64.8,306.8 L73.2,306.8 L73.0,318.5 L64.8,318.5 Z" fill="#5ed27c" stroke="#2f60e0" stroke-width="1.1" stroke-linejoin="round"/>
<ellipse cx="68.2" cy="312.5" rx="2.2" ry="3.5" transform="rotate(0 68.2 312.5)" fill="#e6e26a" stroke="none" stroke-width="1.0"/>
<ellipse cx="67.2" cy="312" rx="1.3" ry="2.2" transform="rotate(0 67.2 312)" fill="#e0485e" stroke="none" stroke-width="1.0"/>
<path d="M114.5,305.0 L121.0,303.8 L126.0,305.5 L128.3,311.0 L127.0,316.8 L114.0,317.2 L113.8,310.0 Z" fill="#5ec8f0" stroke="#2f60e0" stroke-width="1.2" stroke-linejoin="round"/>
<ellipse cx="119" cy="311" rx="4" ry="4" transform="rotate(0 119 311)" fill="#5ed27c" stroke="none" stroke-width="1.0"/>
<ellipse cx="117.8" cy="311" rx="2" ry="2.3" transform="rotate(0 117.8 311)" fill="#e6e26a" stroke="none" stroke-width="1.0"/>
<ellipse cx="117.5" cy="311.5" rx="1.2" ry="1.4" transform="rotate(0 117.5 311.5)" fill="#e0485e" stroke="none" stroke-width="1.0"/>
<path d="M164.6,307.0 L181.0,307.0 L175.5,317.3 L164.6,317.3 Z" fill="#4fb8f0" stroke="#2f60e0" stroke-width="0.8" stroke-linejoin="round"/>
<path d="M165.0,307.5 L176.0,307.5 L172.0,316.8 L165.0,316.8 Z" fill="#5ed27c" stroke="none" stroke-width="1.0" stroke-linejoin="round"/>
<ellipse cx="168.5" cy="311.5" rx="2.5" ry="2.5" transform="rotate(0 168.5 311.5)" fill="#e6e26a" stroke="none" stroke-width="1.0"/>
<ellipse cx="168" cy="311" rx="1.2" ry="1.2" transform="rotate(0 168 311)" fill="#e08040" stroke="none" stroke-width="1.0"/>
<line x1="176" y1="309" x2="171" y2="317" stroke="#2f60e0" stroke-width="1.2" />
<path d="M215.5,307.0 L234.5,307.0 L234.3,317.3 L215.5,317.3 Z" fill="#78aef2" stroke="#2f60e0" stroke-width="1.1" stroke-linejoin="round"/>
<path d="M215.5,307.0 L234.5,307.0 L234.3,317.3 L215.5,317.3 Z" fill="url(#speck)" stroke="none" stroke-width="1.0" stroke-linejoin="round"/>
<ellipse cx="222" cy="312.5" rx="4.5" ry="3.5" transform="rotate(0 222 312.5)" fill="#5ed27c" stroke="none" stroke-width="1.0"/>
<ellipse cx="229" cy="311" rx="2.5" ry="2.5" transform="rotate(0 229 311)" fill="#3a66e8" stroke="none" stroke-width="1.0"/>
<path d="M264.8,307.5 L278.0,307.5 L278.0,317.3 L264.8,317.3 Z" fill="#3d62e0" stroke="#2a48c8" stroke-width="0.8" stroke-linejoin="round"/>
<path d="M264.8,307.5 L278.0,307.5 L278.0,317.3 L264.8,317.3 Z" fill="url(#speck)" stroke="none" stroke-width="1.0" stroke-linejoin="round"/>
<path d="M312.0,305.0 L318.0,304.8 L328.5,306.0 L328.5,317.3 L312.0,317.3 Z" fill="#3b64e6" stroke="#2a48c8" stroke-width="0.8" stroke-linejoin="round"/>
<path d="M312.0,305.0 L318.0,304.8 L328.5,306.0 L328.5,317.3 L312.0,317.3 Z" fill="url(#speck)" stroke="none" stroke-width="1.0" stroke-linejoin="round"/>
<rect x="314" y="309" width="2" height="7" fill="#7ad4f4" stroke="none" stroke-width="1.0"/>
<path d="M65.2,353.0 L71.8,353.0 L72.2,368.0 L65.2,368.0 Z" fill="#86e0f2" stroke="#45a0e8" stroke-width="1.0" stroke-linejoin="round"/>
<ellipse cx="68.5" cy="361" rx="2.8" ry="6" transform="rotate(0 68.5 361)" fill="#5ed27c" stroke="none" stroke-width="1.0"/>
<ellipse cx="67.5" cy="362" rx="1.9" ry="3.5" transform="rotate(0 67.5 362)" fill="#e6e26a" stroke="none" stroke-width="1.0"/>
<ellipse cx="67.2" cy="362.5" rx="1.3" ry="2.3" transform="rotate(0 67.2 362.5)" fill="#e0485e" stroke="none" stroke-width="1.0"/>
<path d="M116.5,355.0 L124.0,353.8 L139.5,354.2 L139.5,359.0 L131.0,363.0 L119.0,365.3 L116.2,363.0 Z" fill="#4fb0f0" stroke="#2f60e0" stroke-width="1.1" stroke-linejoin="round"/>
<ellipse cx="124" cy="358" rx="6" ry="3" transform="rotate(0 124 358)" fill="#5ed27c" stroke="none" stroke-width="1.0"/>
<ellipse cx="121" cy="357.5" rx="2.5" ry="1.6" transform="rotate(0 121 357.5)" fill="#e6e26a" stroke="none" stroke-width="1.0"/>
<ellipse cx="120.5" cy="357.5" rx="1.4" ry="1" transform="rotate(0 120.5 357.5)" fill="#e0485e" stroke="none" stroke-width="1.0"/>
<path d="M165.0,354.0 L172.0,352.0 L180.5,353.0 L178.0,360.0 L172.0,366.5 L164.6,367.0 Z" fill="#86e0f2" stroke="#2f60e0" stroke-width="1.0" stroke-linejoin="round"/>
<ellipse cx="170" cy="357" rx="4" ry="1.5" transform="rotate(-10 170 357)" fill="#e06040" stroke="none" stroke-width="1.0"/>
<line x1="174" y1="360" x2="168" y2="367" stroke="#2f60e0" stroke-width="1.2" />
<path d="M214.0,351.0 L220.0,350.8 L226.8,352.0 L226.8,367.0 L213.7,367.0 Z" fill="#3a62e4" stroke="#2a48c8" stroke-width="0.8" stroke-linejoin="round"/>
<path d="M214.0,351.0 L220.0,350.8 L226.8,352.0 L226.8,367.0 L213.7,367.0 Z" fill="url(#speck)" stroke="none" stroke-width="1.0" stroke-linejoin="round"/>
<ellipse cx="219" cy="358" rx="2.5" ry="3" transform="rotate(0 219 358)" fill="#5a86ee" stroke="none" stroke-width="1.0"/>
<path d="M263.7,354.5 L272.0,354.3 L278.6,356.0 L278.6,365.2 L263.7,365.2 Z" fill="#3a62e4" stroke="#2a48c8" stroke-width="0.8" stroke-linejoin="round"/>
<path d="M263.7,354.5 L272.0,354.3 L278.6,356.0 L278.6,365.2 L263.7,365.2 Z" fill="url(#speck)" stroke="none" stroke-width="1.0" stroke-linejoin="round"/>
<rect x="265" y="356" width="1.6000000000000227" height="9" fill="#68c8f0" stroke="none" stroke-width="1.0"/>
<path d="M313.7,354.0 L327.7,354.0 L327.7,365.2 L313.7,365.2 Z" fill="#3a62e4" stroke="#2a48c8" stroke-width="0.8" stroke-linejoin="round"/>
<path d="M313.7,354.0 L327.7,354.0 L327.7,365.2 L313.7,365.2 Z" fill="url(#speck)" stroke="none" stroke-width="1.0" stroke-linejoin="round"/>
<path d="M65.8,416.0 L65.8,405.0 L67.0,402.5 L69.5,401.8 L72.0,403.0 L73.2,406.0 L73.2,416.0 Z" fill="#7bd8e8" stroke="#2f60e0" stroke-width="1.3" stroke-linejoin="round"/>
<ellipse cx="69" cy="410" rx="2" ry="5" transform="rotate(0 69 410)" fill="#5ed27c" stroke="none" stroke-width="1.0"/>
<path d="M118.0,403.0 L125.0,400.0 L137.5,400.2 L137.7,405.0 L131.0,409.0 L121.0,412.5 L117.5,411.0 Z" fill="#7ad6f2" stroke="#2f60e0" stroke-width="1.1" stroke-linejoin="round"/>
<ellipse cx="123.5" cy="406" rx="4" ry="2.2" transform="rotate(-20 123.5 406)" fill="#5ed27c" stroke="none" stroke-width="1.0"/>
<path d="M164.6,404.0 L170.0,401.0 L177.0,399.9 L180.7,401.5 L176.0,408.0 L170.0,414.0 L165.0,416.0 L164.4,412.0 Z" fill="#62c2f2" stroke="#2f60e0" stroke-width="1.0" stroke-linejoin="round"/>
<ellipse cx="170" cy="405" rx="3.5" ry="1.5" transform="rotate(-15 170 405)" fill="#e05050" stroke="none" stroke-width="1.0"/>
<line x1="170" y1="412" x2="176" y2="406" stroke="#2f60e0" stroke-width="1.2" />
<path d="M214.6,404.0 L218.0,400.5 L224.0,399.0 L228.6,400.0 L226.0,408.0 L220.0,416.0 L214.6,416.0 Z" fill="#6cc4f2" stroke="#2f60e0" stroke-width="1.0" stroke-linejoin="round"/>
<ellipse cx="218" cy="407" rx="2" ry="4" transform="rotate(15 218 407)" fill="#5ed27c" stroke="none" stroke-width="1.0"/>
<path d="M265.2,404.0 L270.0,402.8 L279.6,403.5 L279.6,414.6 L265.2,414.6 Z" fill="#3a62e4" stroke="#2a48c8" stroke-width="0.8" stroke-linejoin="round"/>
<path d="M265.2,404.0 L270.0,402.8 L279.6,403.5 L279.6,414.6 L265.2,414.6 Z" fill="url(#speck)" stroke="none" stroke-width="1.0" stroke-linejoin="round"/>
<rect x="266.5" y="405" width="1.5" height="9" fill="#56c8a8" stroke="none" stroke-width="1.0"/>
<path d="M313.7,404.0 L318.0,402.8 L327.7,403.2 L327.7,414.6 L313.7,414.6 Z" fill="#3a62e4" stroke="#2a48c8" stroke-width="0.8" stroke-linejoin="round"/>
<path d="M313.7,404.0 L318.0,402.8 L327.7,403.2 L327.7,414.6 L313.7,414.6 Z" fill="url(#speck)" stroke="none" stroke-width="1.0" stroke-linejoin="round"/>
<rect x="315.2" y="405" width="1.8000000000000114" height="9" fill="#60d0b0" stroke="none" stroke-width="1.0"/>
<path d="M65.8,453.0 L69.0,451.8 L74.0,452.5 L74.0,458.0 L72.5,463.3 L66.0,463.3 Z" fill="#5ed27c" stroke="#2f60e0" stroke-width="1.1" stroke-linejoin="round"/>
<ellipse cx="68.3" cy="458.5" rx="2.2" ry="3.2" transform="rotate(0 68.3 458.5)" fill="#e0485e" stroke="none" stroke-width="1.0"/>
<ellipse cx="70.5" cy="455" rx="1.5" ry="1.5" transform="rotate(0 70.5 455)" fill="#e6e26a" stroke="none" stroke-width="1.0"/>
<path d="M114.0,460.5 L115.0,455.0 L121.0,450.0 L130.0,448.9 L128.0,453.0 L120.0,458.0 L116.0,461.4 Z" fill="#78d4f2" stroke="#2f60e0" stroke-width="1.0" stroke-linejoin="round"/>
<ellipse cx="121" cy="454" rx="3" ry="1.5" transform="rotate(-35 121 454)" fill="#5ed27c" stroke="none" stroke-width="1.0"/>
<path d="M165.5,460.5 L167.0,455.0 L174.0,449.0 L181.7,446.0 L180.0,451.0 L172.0,458.0 L167.0,461.0 Z" fill="#62c0f2" stroke="#2f60e0" stroke-width="1.0" stroke-linejoin="round"/>
<ellipse cx="171" cy="453.5" rx="3.8" ry="1.4" transform="rotate(-35 171 453.5)" fill="#e05060" stroke="none" stroke-width="1.0"/>
<path d="M214.6,463.0 L215.0,456.0 L220.0,449.0 L228.7,446.0 L226.0,452.0 L220.0,459.0 L216.5,463.3 Z" fill="#6cc8f2" stroke="#2f60e0" stroke-width="1.0" stroke-linejoin="round"/>
<ellipse cx="218" cy="455" rx="1.8" ry="4" transform="rotate(25 218 455)" fill="#5ed27c" stroke="none" stroke-width="1.0"/>
<path d="M265.6,452.0 L271.0,450.0 L279.6,451.0 L279.6,464.2 L265.6,464.2 Z" fill="#3a62e4" stroke="#2a48c8" stroke-width="0.8" stroke-linejoin="round"/>
<path d="M265.6,452.0 L271.0,450.0 L279.6,451.0 L279.6,464.2 L265.6,464.2 Z" fill="url(#speck)" stroke="none" stroke-width="1.0" stroke-linejoin="round"/>
<ellipse cx="269" cy="457" rx="2" ry="3" transform="rotate(0 269 457)" fill="#5c8cf0" stroke="none" stroke-width="1.0"/>
<path d="M313.7,456.0 L317.0,450.8 L324.0,451.0 L328.6,453.0 L328.6,464.2 L313.7,464.2 Z" fill="#3a62e4" stroke="#2a48c8" stroke-width="0.8" stroke-linejoin="round"/>
<path d="M313.7,456.0 L317.0,450.8 L324.0,451.0 L328.6,453.0 L328.6,464.2 L313.7,464.2 Z" fill="url(#speck)" stroke="none" stroke-width="1.0" stroke-linejoin="round"/>
</g>
<line x1="59.1" y1="258.6" x2="100.6" y2="258.6" stroke="#222226" stroke-width="1.5" />
<line x1="108.5" y1="258.6" x2="150.3" y2="258.6" stroke="#222226" stroke-width="1.5" />
<line x1="159.8" y1="258.6" x2="200.0" y2="258.6" stroke="#222226" stroke-width="1.5" />
<line x1="207.1" y1="258.6" x2="249.3" y2="258.6" stroke="#222226" stroke-width="1.5" />
<line x1="258.0" y1="258.6" x2="299.0" y2="258.6" stroke="#222226" stroke-width="1.5" />
<line x1="306.5" y1="258.6" x2="348.7" y2="258.6" stroke="#222226" stroke-width="1.5" />
<line x1="59.1" y1="307.0" x2="100.6" y2="307.0" stroke="#222226" stroke-width="1.5" />
<line x1="108.5" y1="307.0" x2="150.3" y2="307.0" stroke="#222226" stroke-width="1.5" />
<line x1="159.8" y1="307.0" x2="200.0" y2="307.0" stroke="#222226" stroke-width="1.5" />
<line x1="207.1" y1="307.0" x2="249.3" y2="307.0" stroke="#222226" stroke-width="1.5" />
<line x1="258.0" y1="307.0" x2="299.0" y2="307.0" stroke="#222226" stroke-width="1.5" />
<line x1="306.5" y1="307.0" x2="348.7" y2="307.0" stroke="#222226" stroke-width="1.5" />
<line x1="59.1" y1="355.4" x2="100.6" y2="355.4" stroke="#222226" stroke-width="1.5" />
<line x1="108.5" y1="355.4" x2="150.3" y2="355.4" stroke="#222226" stroke-width="1.5" />
<line x1="159.8" y1="355.4" x2="200.0" y2="355.4" stroke="#222226" stroke-width="1.5" />
<line x1="207.1" y1="355.4" x2="249.3" y2="355.4" stroke="#222226" stroke-width="1.5" />
<line x1="258.0" y1="355.4" x2="299.0" y2="355.4" stroke="#222226" stroke-width="1.5" />
<line x1="306.5" y1="355.4" x2="348.7" y2="355.4" stroke="#222226" stroke-width="1.5" />
<line x1="59.1" y1="404.4" x2="100.6" y2="404.4" stroke="#222226" stroke-width="1.5" />
<line x1="108.5" y1="404.4" x2="150.3" y2="404.4" stroke="#222226" stroke-width="1.5" />
<line x1="159.8" y1="404.4" x2="200.0" y2="404.4" stroke="#222226" stroke-width="1.5" />
<line x1="207.1" y1="404.4" x2="249.3" y2="404.4" stroke="#222226" stroke-width="1.5" />
<line x1="258.0" y1="404.4" x2="299.0" y2="404.4" stroke="#222226" stroke-width="1.5" />
<line x1="306.5" y1="404.4" x2="348.7" y2="404.4" stroke="#222226" stroke-width="1.5" />
<line x1="59.1" y1="454.6" x2="100.6" y2="454.6" stroke="#222226" stroke-width="1.5" />
<line x1="108.5" y1="454.6" x2="150.3" y2="454.6" stroke="#222226" stroke-width="1.5" />
<line x1="159.8" y1="454.6" x2="200.0" y2="454.6" stroke="#222226" stroke-width="1.5" />
<line x1="207.1" y1="454.6" x2="249.3" y2="454.6" stroke="#222226" stroke-width="1.5" />
<line x1="258.0" y1="454.6" x2="299.0" y2="454.6" stroke="#222226" stroke-width="1.5" />
<line x1="306.5" y1="454.6" x2="348.7" y2="454.6" stroke="#222226" stroke-width="1.5" />
<text transform="translate(360.6,221.4) scale(1,1.18)" font-size="15.3" font-weight="bold">D</text>
<text x="360.4" y="231.3" font-size="5.3" text-anchor="start" font-weight="bold" style="stroke-width:0.2px">Day</text>
<text x="385.8" y="231.4" font-size="5.6" text-anchor="middle" font-weight="bold" style="stroke-width:0.2px">7</text>
<text x="396.2" y="231.4" font-size="5.6" text-anchor="middle" font-weight="bold" style="stroke-width:0.2px">10</text>
<text x="409.6" y="231.4" font-size="5.6" text-anchor="middle" font-weight="bold" style="stroke-width:0.2px">12</text>
<text x="421.6" y="231.4" font-size="5.6" text-anchor="middle" font-weight="bold" style="stroke-width:0.2px">14</text>
<g>
<rect x="376.9" y="235.29999999999998" width="50.3" height="10.6" fill="#f8f8fa" stroke="#2e2e34" stroke-width="1.3"/>
<rect x="378.4" y="236.7" width="47.3" height="7.8" fill="none" stroke="#d4d4da" stroke-width="0.6"/>
<rect x="379.4" y="239.0" width="9.7" height="3.8" rx="1.9" fill="#3c4052" fill-opacity="0.75" filter="url(#soft)"/>
<rect x="391.2" y="238.2" width="9.7" height="4.0" rx="2.0" fill="#3c4052" fill-opacity="0.85" filter="url(#soft)"/>
<rect x="403.6" y="239.0" width="9.2" height="3.5" rx="1.8" fill="#3c4052" fill-opacity="0.7" filter="url(#soft)"/>
<rect x="416" y="239.5" width="8.6" height="2.8" rx="1.4" fill="#3c4052" fill-opacity="0.35" filter="url(#soft)"/>
<text x="431.2" y="242.7" font-size="6.6" text-anchor="start" font-weight="bold" >cyclin D<tspan font-size="5.6" dy="1.9">1</tspan></text>
<rect x="376.9" y="250.9" width="50.3" height="8.1" fill="#f8f8fa" stroke="#2e2e34" stroke-width="1.3"/>
<rect x="378.4" y="252.3" width="47.3" height="5.3" fill="none" stroke="#d4d4da" stroke-width="0.6"/>
<rect x="379.4" y="253.0" width="9.1" height="3.0" rx="1.5" fill="#3c4052" fill-opacity="0.5" filter="url(#soft)"/>
<rect x="391.2" y="253.0" width="8.1" height="2.8" rx="1.4" fill="#3c4052" fill-opacity="0.4" filter="url(#soft)"/>
<text x="431.2" y="258.3" font-size="6.6" text-anchor="start" font-weight="bold" >cyclin D<tspan font-size="5.6" dy="1.9">3</tspan></text>
<rect x="376.9" y="265.8" width="50.3" height="9.6" fill="#f8f8fa" stroke="#2e2e34" stroke-width="1.3"/>
<rect x="378.4" y="267.2" width="47.3" height="6.8" fill="none" stroke="#d4d4da" stroke-width="0.6"/>
<rect x="379.4" y="267.8" width="6.6" height="3.2" rx="1.6" fill="#3c4052" fill-opacity="0.75" filter="url(#soft)"/>
<rect x="382" y="270.5" width="7.1" height="3.0" rx="1.5" fill="#3c4052" fill-opacity="0.6" filter="url(#soft)"/>
<text x="431.2" y="273.2" font-size="6.6" text-anchor="start" font-weight="bold" >cyclin E</text>
<rect x="376.9" y="281.8" width="50.3" height="9.2" fill="#f8f8fa" stroke="#2e2e34" stroke-width="1.3"/>
<rect x="378.4" y="283.2" width="47.3" height="6.4" fill="none" stroke="#d4d4da" stroke-width="0.6"/>
<rect x="380" y="284.0" width="11.8" height="4.4" rx="2.0" fill="#3c4052" fill-opacity="0.8" filter="url(#soft)"/>
<rect x="392.8" y="285.0" width="9.2" height="3.5" rx="1.8" fill="#3c4052" fill-opacity="0.7" filter="url(#soft)"/>
<rect x="405" y="285.8" width="6.7" height="2.0" rx="1.0" fill="#3c4052" fill-opacity="0.12" filter="url(#soft)"/>
<text x="431.2" y="289.2" font-size="6.6" text-anchor="start" font-weight="bold" >cyclin A</text>
<rect x="376.9" y="297.8" width="50.3" height="9.4" fill="#f8f8fa" stroke="#2e2e34" stroke-width="1.3"/>
<rect x="378.4" y="299.2" width="47.3" height="6.6" fill="none" stroke="#d4d4da" stroke-width="0.6"/>
<rect x="381" y="301.3" width="8.0" height="1.6" rx="0.8" fill="#3c4052" fill-opacity="0.4" filter="url(#soft)"/>
<rect x="392.8" y="301.3" width="8.2" height="1.6" rx="0.8" fill="#3c4052" fill-opacity="0.4" filter="url(#soft)"/>
<rect x="405" y="301.5" width="5.0" height="1.2" rx="0.6" fill="#3c4052" fill-opacity="0.1" filter="url(#soft)"/>
<text x="431.2" y="305.2" font-size="6.6" text-anchor="start" font-weight="bold" >cyclin B1</text>
<rect x="376.9" y="313.40000000000003" width="50.3" height="9.3" fill="#f8f8fa" stroke="#2e2e34" stroke-width="1.3"/>
<rect x="378.4" y="314.8" width="47.3" height="6.5" fill="none" stroke="#d4d4da" stroke-width="0.6"/>
<rect x="379.4" y="315.6" width="10.2" height="5.0" rx="2.0" fill="#3c4052" fill-opacity="0.85" filter="url(#soft)"/>
<rect x="392.8" y="317.1" width="8.6" height="3.3" rx="1.6" fill="#3c4052" fill-opacity="0.7" filter="url(#soft)"/>
<rect x="405" y="317.5" width="7.0" height="2.0" rx="1.0" fill="#3c4052" fill-opacity="0.08" filter="url(#soft)"/>
<text x="431.2" y="320.8" font-size="6.6" text-anchor="start" font-weight="bold" >cdk2</text>
<rect x="376.9" y="328.5" width="50.3" height="9.6" fill="#f8f8fa" stroke="#2e2e34" stroke-width="1.3"/>
<rect x="378.4" y="329.9" width="47.3" height="6.8" fill="none" stroke="#d4d4da" stroke-width="0.6"/>
<rect x="378.8" y="330.0" width="11.9" height="6.2" rx="2.0" fill="#3c4052" fill-opacity="0.85" filter="url(#soft)"/>
<rect x="391.8" y="330.4" width="9.1" height="5.6" rx="2.0" fill="#3c4052" fill-opacity="0.82" filter="url(#soft)"/>
<rect x="404" y="332" width="8.0" height="2.5" rx="1.2" fill="#3c4052" fill-opacity="0.15" filter="url(#soft)"/>
<text x="431.2" y="335.9" font-size="6.6" text-anchor="start" font-weight="bold" >cdk4</text>
<rect x="376.9" y="343.8" width="50.3" height="9.2" fill="#f8f8fa" stroke="#2e2e34" stroke-width="1.3"/>
<rect x="378.4" y="345.2" width="47.3" height="6.4" fill="none" stroke="#d4d4da" stroke-width="0.6"/>
<rect x="379.4" y="346.8" width="9.1" height="3.1" rx="1.5" fill="#3c4052" fill-opacity="0.8" filter="url(#soft)"/>
<rect x="391.2" y="347.6" width="9.7" height="3.1" rx="1.5" fill="#3c4052" fill-opacity="0.65" filter="url(#soft)"/>
<rect x="403.6" y="348.0" width="9.2" height="2.4" rx="1.2" fill="#3c4052" fill-opacity="0.5" filter="url(#soft)"/>
<rect x="416" y="348" width="7.5" height="2.0" rx="1.0" fill="#3c4052" fill-opacity="0.12" filter="url(#soft)"/>
<text x="431.2" y="351.2" font-size="6.6" text-anchor="start" font-weight="bold" >cdc2</text>
<rect x="376.9" y="359.1" width="50.3" height="9.0" fill="#f8f8fa" stroke="#2e2e34" stroke-width="1.3"/>
<rect x="378.4" y="360.5" width="47.3" height="6.2" fill="none" stroke="#d4d4da" stroke-width="0.6"/>
<rect x="379.4" y="362.2" width="9.1" height="2.7" rx="1.3" fill="#3c4052" fill-opacity="0.45" filter="url(#soft)"/>
<rect x="391.2" y="361.5" width="10.2" height="4.5" rx="2.0" fill="#3c4052" fill-opacity="0.75" filter="url(#soft)"/>
<rect x="403.6" y="362.0" width="9.2" height="3.5" rx="1.8" fill="#3c4052" fill-opacity="0.55" filter="url(#soft)"/>
<rect x="416" y="361.5" width="8.6" height="3.5" rx="1.8" fill="#3c4052" fill-opacity="0.6" filter="url(#soft)"/>
<text x="431.2" y="366.5" font-size="6.6" text-anchor="start" font-weight="bold" >&#946;-tublin</text>
</g>
</g></svg></body></html>
